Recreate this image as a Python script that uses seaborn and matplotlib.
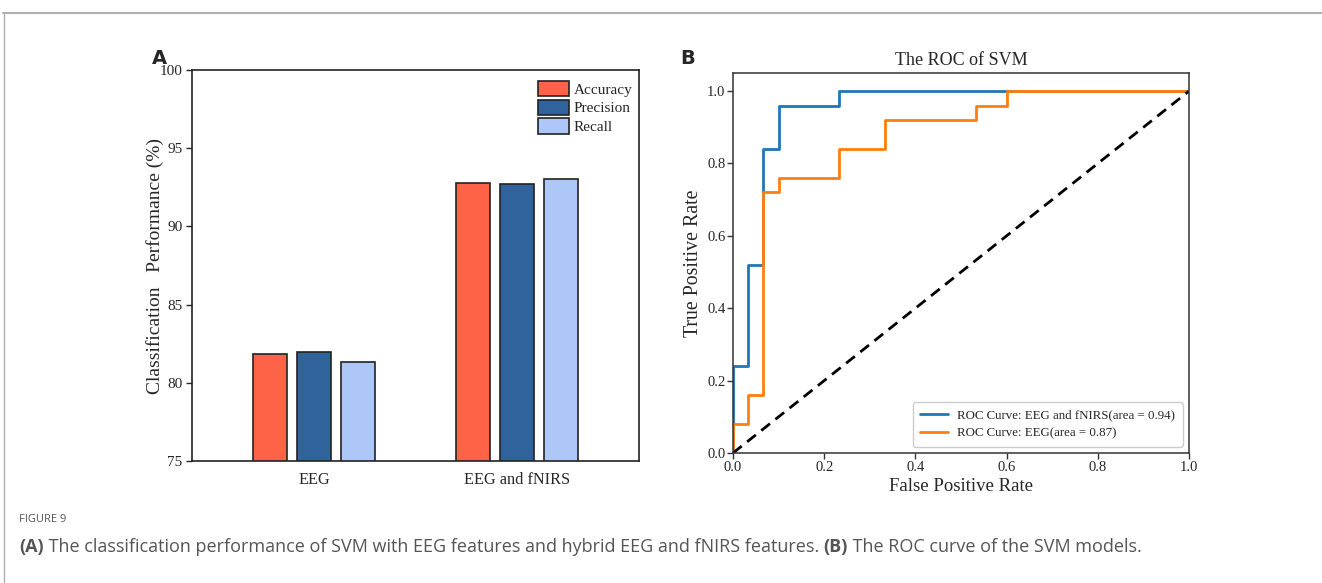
import numpy as np
import pandas as pd
import matplotlib
matplotlib.use("Agg")
import matplotlib.pyplot as plt
import seaborn as sns

# ---------------- data ----------------
groups = ["EEG", "EEG and fNIRS"]
metrics = ["Accuracy", "Precision", "Recall"]
accuracy = [81.84, 92.78]
precision = [81.94, 92.72]
recall = [81.35, 93.04]

fpr_hybrid = [0.0, 0.0, 0.0333, 0.0333, 0.0667, 0.0667, 0.1, 0.1, 0.2333, 0.2333, 0.6, 1.0]
tpr_hybrid = [0.0, 0.24, 0.24, 0.52, 0.52, 0.84, 0.84, 0.96, 0.96, 1.0, 1.0, 1.0]
fpr_eeg = [0.0, 0.0, 0.0333, 0.0333, 0.0667, 0.0667, 0.1, 0.1, 0.2333, 0.2333, 0.3333, 0.3333,
           0.5333, 0.5333, 0.6, 0.6, 1.0]
tpr_eeg = [0.0, 0.08, 0.08, 0.16, 0.16, 0.72, 0.72, 0.76, 0.76, 0.84, 0.84, 0.92,
           0.92, 0.96, 0.96, 1.0, 1.0]
label_hybrid = "ROC Curve: EEG and fNIRS(area = 0.94)"
label_eeg = "ROC Curve: EEG(area = 0.87)"

bar_colors = ["#FF6347", "#30629B", "#ADC8F8"]

sns.set_theme(style="ticks")
plt.rcParams["font.family"] = ["Liberation Serif", "DejaVu Serif"]

fig = plt.figure(figsize=(13.22, 5.83), dpi=100)
W, H = 1322, 583

def ax_rect(l, t, r, b):
    return [l / W, (H - b) / H, (r - l) / W, (b - t) / H]

# ---------------- panel A ----------------
axA = fig.add_axes(ax_rect(192, 70, 639, 461))
df = pd.DataFrame({
    "group": np.repeat(groups, len(metrics)),
    "metric": metrics * len(groups),
    "value": [v for pair in zip(accuracy, precision, recall) for v in pair],
})
sns.barplot(data=df, x="group", y="value", hue="metric", order=groups,
            hue_order=metrics, palette=bar_colors, width=0.647, gap=0.218,
            edgecolor="#222222", linewidth=1.2, saturation=1, ax=axA)
axA.set_ylim(75, 100)
axA.set_xlim(-0.601, 1.6)
axA.set_yticks([75, 80, 85, 90, 95, 100])
axA.tick_params(axis="y", labelsize=11, length=4, width=1, direction="out", pad=3)
axA.tick_params(axis="x", labelsize=11.7, length=0, pad=8)
axA.set_xlabel("")
axA.set_ylabel("Classification   Performance (%)", fontsize=14, labelpad=-3)
for s in axA.spines.values():
    s.set_linewidth(1.2)
    s.set_color("#222222")
handles, labels = axA.get_legend_handles_labels()
axA.legend(handles, labels, loc="upper right", bbox_to_anchor=(1.0, 0.99),
           frameon=False, fontsize=11,
           handlelength=2.0, handleheight=1.15, labelspacing=0.2,
           handletextpad=0.3, borderaxespad=0.25, borderpad=0.2)

# ---------------- panel B ----------------
axB = fig.add_axes(ax_rect(733, 73, 1189, 453))
sns.lineplot(x=fpr_hybrid, y=tpr_hybrid, sort=False, estimator=None, color="#1f77b4",
             linewidth=2, label=label_hybrid, ax=axB)
sns.lineplot(x=fpr_eeg, y=tpr_eeg, sort=False, estimator=None, color="#ff7f0e",
             linewidth=2, label=label_eeg, ax=axB)
axB.plot([0, 1], [0, 1], color="black", linestyle="--", linewidth=2, dashes=(4, 2.5))
axB.set_xlim(0, 1.0)
axB.set_ylim(0, 1.05)
axB.set_xticks([0, 0.2, 0.4, 0.6, 0.8, 1.0])
axB.set_yticks([0, 0.2, 0.4, 0.6, 0.8, 1.0])
axB.xaxis.set_major_formatter(matplotlib.ticker.FormatStrFormatter("%.1f"))
axB.yaxis.set_major_formatter(matplotlib.ticker.FormatStrFormatter("%.1f"))
axB.tick_params(labelsize=10.5, length=4, width=1, color="#333333", pad=1.5)
axB.set_xlabel("False Positive Rate", fontsize=13.5, labelpad=3)
axB.set_ylabel("True Positive Rate", fontsize=14.3, labelpad=3)
axB.set_title("The ROC of SVM", fontsize=13, pad=6)
for s in axB.spines.values():
    s.set_linewidth(1.1)
    s.set_color("#333333")
axB.legend(loc="lower right", fontsize=9.3, handlelength=2.2, handletextpad=0.7,
           borderpad=0.55, labelspacing=0.45, framealpha=1, edgecolor="#cccccc",
           fancybox=True, borderaxespad=0.5)

# ---------------- decorations ----------------
fig.text(152 / W, 1 - 58 / H, "A", fontsize=14, fontweight="bold",
         family="DejaVu Sans", ha="left", va="center")
fig.text(680 / W, 1 - 59 / H, "B", fontsize=14, fontweight="bold",
         family="DejaVu Sans", ha="left", va="center")

line_col = "#b0b0b0"
fig.add_artist(plt.Line2D([3 / W, 1], [1 - 13 / H, 1 - 13 / H], color=line_col,
                          linewidth=1.5, transform=fig.transFigure))
fig.add_artist(plt.Line2D([3.5 / W, 3.5 / W], [0, 1 - 13 / H], color=line_col,
                          linewidth=1, transform=fig.transFigure))

cap_col = "#555555"
fig.text(19 / W, 1 - 520 / H, "FIGURE 9", fontsize=8, color=cap_col,
         family="Open Sans", va="center", ha="left")

fig.canvas.draw()
renderer = fig.canvas.get_renderer()
parts = [("(A)", "bold"),
         (" The classification performance of SVM with EEG features and hybrid EEG and fNIRS features. ", "normal"),
         ("(B)", "bold"),
         (" The ROC curve of the SVM models.", "normal")]
x = 19
for txt, wt in parts:
    t = fig.text(x / W, 1 - 547 / H, txt, fontsize=13, color=cap_col, fontweight=wt,
                 family="Open Sans", va="center", ha="left")
    bb = t.get_window_extent(renderer)
    x += bb.width

fig.savefig("out.png", dpi=100)
